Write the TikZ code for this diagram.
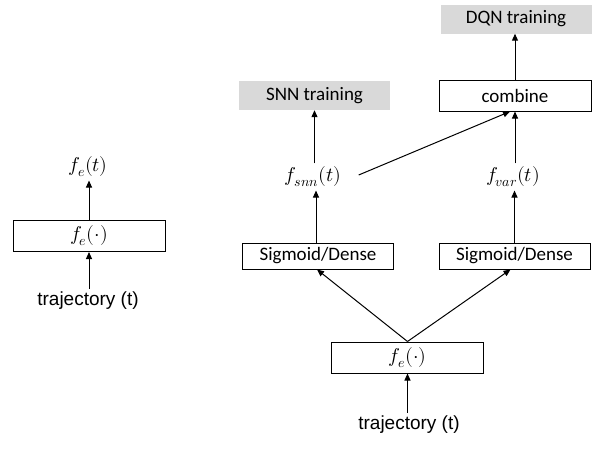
\documentclass[tikz,border=0pt]{standalone}
\usepackage{fontspec}
\usepackage{unicode-math}
\setmainfont{Carlito}
\setmathfont{latinmodern-math.otf}[Scale=1.05]
\newfontfamily\arialfont{Liberation Sans}
\usetikzlibrary{arrows.meta}

\begin{document}
\begin{tikzpicture}[x=1pt,y=-1pt,font=\fontsize{19}{22}\selectfont,
		blk/.style={draw,line width=1pt,minimum width=152pt,minimum height=31pt,inner sep=0pt},
		sig/.style={blk,minimum width=151pt,minimum height=26pt},
		goal/.style={fill=black!15,minimum width=151pt,minimum height=29pt,inner sep=0pt},
		arr/.style={-{Triangle[length=7pt,width=6pt]},line width=1pt}]
		\useasboundingbox (0,0) rectangle (597,450);
		\node[blk] (fe1) at (89,236) {$f_e(\cdot)$};
		\node (out1) at (88,167) {$f_e(t)$};
		\node[font=\arialfont\fontsize{19}{22}\selectfont] (in1) at (88,301) {trajectory (t)};
		\draw[arr] (in1.north -| fe1.south) -- (fe1.south);
		\draw[arr] (fe1.north) -- (out1.south -| fe1.north);
		\node[blk] (fe2) at (407.5,357.5) {$f_e(\cdot)$};
		\node[font=\arialfont\fontsize{19}{22}\selectfont] (in2) at (409,425) {trajectory (t)};
		\node[sig] (sigL) at (318,256) {Sigmoid/Dense};
		\node[sig] (sigR) at (514.5,256) {Sigmoid/Dense};
		\node (fsnn) at (313,177) {$f_{snn}(t)$};
		\node (fvar) at (513,177) {$f_{var}(t)$};
		\node[blk] (comb) at (515,95.5) {combine};
		\node[goal] (snn) at (314.5,95.5) {SNN training};
		\node[goal] (dqn) at (516,19) {DQN training};
		\draw[arr] (in2.north -| fe2.south) -- (fe2.south);
		\draw[arr] (fe2.north) -- ([xshift=-1pt]sigL.south);
		\draw[arr] (fe2.north) -- ([xshift=-4pt]sigR.south);
		\draw[arr] ([xshift=-2pt]sigL.north) -- ([xshift=-2pt]sigL.north |- fsnn.south);
		\draw[arr] (sigR.north) -- (sigR.north |- fvar.south);
		\draw[arr] (snn.south |- fsnn.north) -- (snn.south);
		\draw[arr] (comb.south |- fvar.north) -- (comb.south);
		\draw[arr] ([xshift=14pt,yshift=2pt]fsnn.east) -- ([xshift=-5pt]comb.south);
		\draw[arr] (comb.north) -- (comb.north |- dqn.south);
	\end{tikzpicture}
\end{document}
